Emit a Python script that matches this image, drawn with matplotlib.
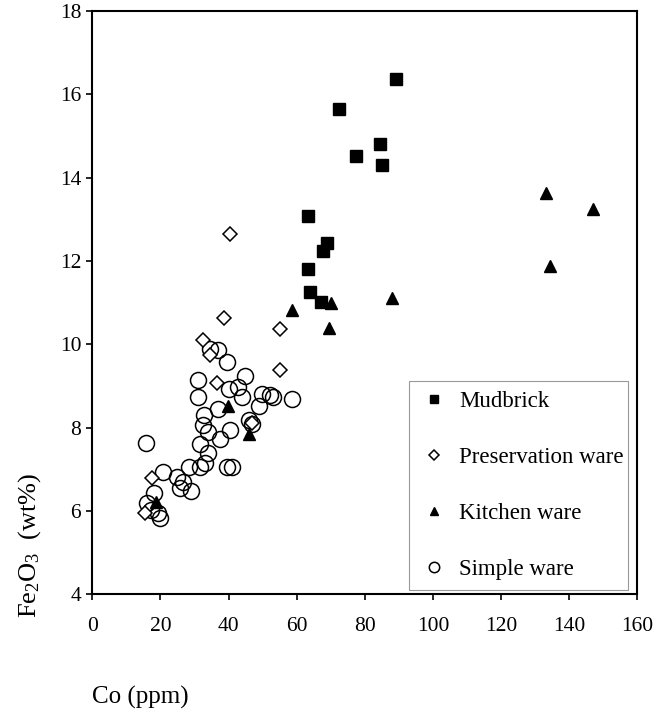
import matplotlib
matplotlib.use('Agg')
import matplotlib.pyplot as plt

plt.rcParams['font.family'] = ['Liberation Serif', 'DejaVu Serif']
plt.rcParams['mathtext.fontset'] = 'custom'
plt.rcParams['mathtext.rm'] = 'Liberation Serif'
plt.rcParams['mathtext.it'] = 'Liberation Serif:italic'

# Co (ppm) vs Fe2O3 (wt%)
mud_co = [89.1, 72.3, 84.5, 77.5, 85.1, 63.2, 68.8, 67.8, 63.2, 63.8, 67.2]
mud_fe = [16.36, 15.66, 14.82, 14.53, 14.30, 13.08, 12.43, 12.24, 11.81, 11.26, 11.02]

pres_co = [40.5, 38.6, 55.2, 32.6, 34.6, 55.2, 36.5, 46.8, 17.4, 15.5]
pres_fe = [12.65, 10.64, 10.36, 10.10, 9.74, 9.38, 9.06, 8.10, 6.80, 5.94]

kit_co = [58.6, 70.2, 69.5, 87.9, 133.2, 146.9, 134.3, 39.9, 46.1, 18.7]
kit_fe = [10.82, 11.00, 10.40, 11.10, 13.64, 13.25, 11.89, 8.52, 7.85, 6.21]

simp_co = [34.6, 37.0, 39.5, 44.8, 31.1, 31.1, 40.2, 42.9, 43.9, 49.7,
           52.2, 52.9, 58.6, 49.0, 37.0, 32.9, 32.6, 46.1, 46.8, 40.4,
           34.1, 37.5, 15.7, 31.6, 34.1, 33.1, 31.6, 39.6, 40.9, 28.5,
           20.8, 24.8, 26.7, 25.7, 28.9, 18.1, 16.0, 19.4, 19.9, 17.2]
simp_fe = [9.88, 9.86, 9.57, 9.24, 9.14, 8.74, 8.92, 8.97, 8.74, 8.80,
           8.78, 8.74, 8.68, 8.53, 8.45, 8.30, 8.06, 8.18, 8.09, 7.94,
           7.90, 7.72, 7.64, 7.61, 7.38, 7.14, 7.06, 7.06, 7.06, 7.06,
           6.94, 6.82, 6.70, 6.56, 6.49, 6.44, 6.18, 5.94, 5.82, 6.02]

fig = plt.figure(figsize=(6.58, 7.16), dpi=100)
ax = fig.add_axes([0.1403, 0.170, 0.8283, 0.8146])

ax.plot(simp_co, simp_fe, 'o', ms=11.5, mfc='none', mec='black', mew=1.1,
        ls='none', label='Simple ware', zorder=2)
ax.plot(pres_co, pres_fe, 'D', ms=7.5, mfc='white', mec='black', mew=1.1,
        ls='none', label='Preservation ware', zorder=3)
ax.plot(kit_co, kit_fe, '^', ms=8, color='black', ls='none',
        label='Kitchen ware', zorder=4)
ax.plot(mud_co, mud_fe, 's', ms=8.5, color='black', ls='none',
        label='Mudbrick', zorder=5)

ax.set_xlim(0, 160)
ax.set_ylim(4, 18)
ax.set_xticks(range(0, 161, 20))
ax.set_yticks(range(4, 19, 2))
ax.tick_params(axis='x', direction='out', length=4, width=1.2, labelsize=15.5, pad=12)
ax.tick_params(axis='y', direction='out', length=4, width=1.2, labelsize=15.5, pad=4)
for s in ax.spines.values():
    s.set_linewidth(1.5)

# legend order: Mudbrick, Preservation, Kitchen, Simple
h, l = ax.get_legend_handles_labels()
order = [3, 1, 2, 0]
leg = ax.legend([h[i] for i in order], [l[i] for i in order],
                loc='upper left', bbox_to_anchor=(0.581, 0.016, 0.4025, 0.35),
                mode='expand', fontsize=16.5, markerscale=0.65,
                labelspacing=1.52, borderpad=0.45, handlelength=1.3,
                handletextpad=0.45, frameon=True, fancybox=False,
                framealpha=1, borderaxespad=0)
leg.get_frame().set_edgecolor('#999999')
leg.get_frame().set_linewidth(0.8)

fig.text(30 / 658, 1 - 545 / 716, 'Fe$_2$O$_3$  (wt%)', rotation=90,
         ha='center', va='center', fontsize=19)
fig.text(92 / 658, 1 - 697 / 716, 'Co (ppm)', ha='left', va='center', fontsize=18)

fig.savefig('out.png', dpi=100)
